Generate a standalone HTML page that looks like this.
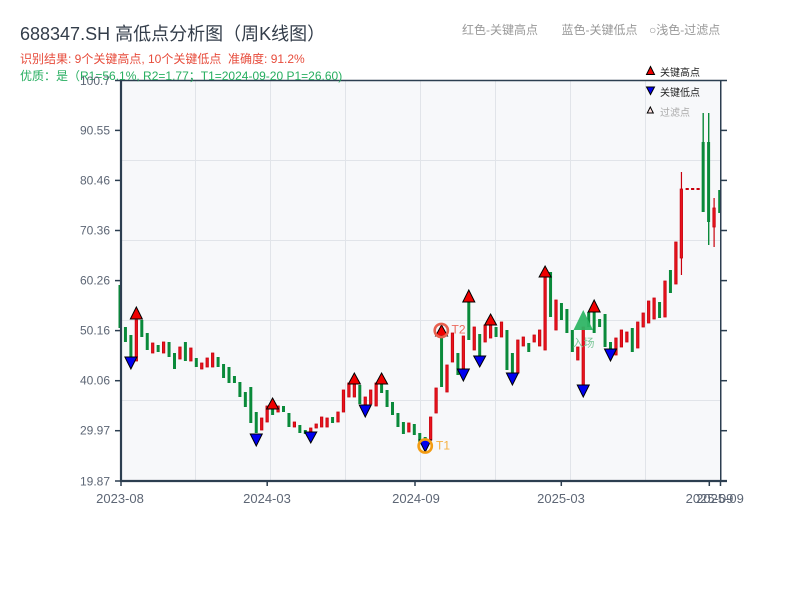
<!DOCTYPE html>
<html><head><meta charset="utf-8"><style>
html,body{margin:0;padding:0;background:#fff;}
svg{display:block;}
.r{fill:#e8141e;stroke:#c8000c;stroke-width:.8}
.g{fill:#0a8a3a}
.ax{stroke:#2c3e50;fill:none}
.yl{font-family:"Liberation Sans",sans-serif;font-size:12px;fill:#5d6675;text-anchor:end}
.xl{font-family:"Liberation Sans",sans-serif;font-size:13px;fill:#5d6675;text-anchor:middle}
.hi{fill:#f00000;stroke:#000;stroke-width:1}
.lo{fill:#0000f0;stroke:#000;stroke-width:1}
.cjk{font-family:"Liberation Sans","Noto Sans CJK SC",sans-serif}
</style></head><body>
<svg width="800" height="600" viewBox="0 0 800 600" xmlns="http://www.w3.org/2000/svg">
<rect x="0" y="0" width="800" height="600" fill="#fff"/>
<rect x="121" y="80" width="600" height="401" fill="#f7f8fa"/>
<g stroke="#e1e4e9" stroke-width="1">
<line x1="195.5" y1="80" x2="195.5" y2="481"/>
<line x1="270.5" y1="80" x2="270.5" y2="481"/>
<line x1="345.5" y1="80" x2="345.5" y2="481"/>
<line x1="420.5" y1="80" x2="420.5" y2="481"/>
<line x1="495.5" y1="80" x2="495.5" y2="481"/>
<line x1="570.5" y1="80" x2="570.5" y2="481"/>
<line x1="645.5" y1="80" x2="645.5" y2="481"/>
<line x1="121" y1="160.5" x2="721" y2="160.5"/>
<line x1="121" y1="240.5" x2="721" y2="240.5"/>
<line x1="121" y1="320.5" x2="721" y2="320.5"/>
<line x1="121" y1="400.5" x2="721" y2="400.5"/>
</g>
<g>
<rect class="g" x="118.5" y="285" width="3" height="43"/>
<rect class="g" x="123.95" y="327" width="3" height="15"/>
<rect class="g" x="129.4" y="335" width="3" height="23"/>
<rect class="r" x="135.15" y="320" width="2.4" height="41"/>
<rect class="g" x="140.3" y="320" width="3" height="17"/>
<rect class="g" x="145.75" y="333" width="3" height="17"/>
<rect class="r" x="151.5" y="343" width="2.4" height="10"/>
<rect class="g" x="156.65" y="345" width="3" height="7"/>
<rect class="r" x="162.4" y="342" width="2.4" height="11"/>
<rect class="g" x="167.55" y="342" width="3" height="15"/>
<rect class="g" x="173" y="353" width="3" height="16"/>
<rect class="r" x="178.75" y="347" width="2.4" height="12"/>
<rect class="g" x="183.9" y="342" width="3" height="19"/>
<rect class="r" x="189.65" y="348" width="2.4" height="13"/>
<rect class="g" x="194.8" y="358" width="3" height="9"/>
<rect class="r" x="200.55" y="363" width="2.4" height="6"/>
<rect class="r" x="206" y="358" width="2.4" height="9"/>
<rect class="r" x="211.45" y="353" width="2.4" height="14"/>
<rect class="g" x="216.6" y="357" width="3" height="10"/>
<rect class="g" x="222.05" y="364" width="3" height="14"/>
<rect class="g" x="227.5" y="367" width="3" height="16"/>
<rect class="g" x="232.95" y="376" width="3" height="7"/>
<rect class="g" x="238.4" y="382" width="3" height="15"/>
<rect class="g" x="243.85" y="392" width="3" height="15"/>
<rect class="g" x="249.3" y="387" width="3" height="36"/>
<rect class="g" x="254.75" y="412" width="3" height="21"/>
<rect class="r" x="260.5" y="418" width="2.4" height="12"/>
<rect class="r" x="265.95" y="406" width="2.4" height="16"/>
<rect class="g" x="271.1" y="408" width="3" height="7"/>
<rect class="r" x="276.85" y="406" width="2.4" height="6"/>
<rect class="g" x="282" y="406" width="3" height="6"/>
<rect class="g" x="287.45" y="413" width="3" height="14"/>
<rect class="r" x="293.2" y="422" width="2.4" height="5"/>
<rect class="g" x="298.35" y="425" width="3" height="8"/>
<rect class="g" x="303.8" y="430" width="3" height="4"/>
<rect class="r" x="309.55" y="428" width="2.4" height="5"/>
<rect class="r" x="315" y="424" width="2.4" height="4"/>
<rect class="r" x="320.45" y="417" width="2.4" height="10"/>
<rect class="r" x="325.9" y="418" width="2.4" height="9"/>
<rect class="g" x="331.05" y="417" width="3" height="6"/>
<rect class="r" x="336.8" y="412" width="2.4" height="10"/>
<rect class="r" x="342.25" y="390" width="2.4" height="22"/>
<rect class="r" x="347.7" y="383" width="2.4" height="14"/>
<rect class="r" x="353.15" y="384" width="2.4" height="13"/>
<rect class="g" x="358.3" y="385" width="3" height="19"/>
<rect class="r" x="364.05" y="397" width="2.4" height="8"/>
<rect class="r" x="369.5" y="390" width="2.4" height="14"/>
<rect class="r" x="374.95" y="383" width="2.4" height="23"/>
<rect class="g" x="380.1" y="384" width="3" height="9"/>
<rect class="g" x="385.55" y="390" width="3" height="17"/>
<rect class="g" x="391" y="402" width="3" height="13"/>
<rect class="g" x="396.45" y="413" width="3" height="14"/>
<rect class="g" x="401.9" y="422" width="3" height="12"/>
<rect class="r" x="407.65" y="423" width="2.4" height="9"/>
<rect class="g" x="412.8" y="424" width="3" height="11"/>
<rect class="g" x="418.25" y="433" width="3" height="9"/>
<rect class="g" x="423.7" y="437" width="3" height="6"/>
<rect class="r" x="429.45" y="417" width="2.4" height="23"/>
<rect class="r" x="434.9" y="388" width="2.4" height="25"/>
<rect class="g" x="440.05" y="338" width="3" height="49"/>
<rect class="r" x="445.8" y="365" width="2.4" height="27"/>
<rect class="r" x="451.25" y="333" width="2.4" height="29"/>
<rect class="g" x="456.4" y="353" width="3" height="22"/>
<rect class="r" x="462.15" y="336" width="2.4" height="34"/>
<rect class="g" x="467.3" y="302" width="3" height="38"/>
<rect class="r" x="473.05" y="327" width="2.4" height="23"/>
<rect class="g" x="478.2" y="334" width="3" height="22"/>
<rect class="r" x="483.95" y="325" width="2.4" height="17"/>
<rect class="r" x="489.4" y="325" width="2.4" height="13"/>
<rect class="g" x="494.55" y="327" width="3" height="10"/>
<rect class="r" x="500.3" y="322" width="2.4" height="15"/>
<rect class="g" x="505.45" y="330" width="3" height="40"/>
<rect class="g" x="510.9" y="353" width="3" height="20"/>
<rect class="r" x="516.65" y="340" width="2.4" height="33"/>
<rect class="r" x="522.1" y="337" width="2.4" height="9"/>
<rect class="g" x="527.25" y="343" width="3" height="9"/>
<rect class="r" x="533" y="335" width="2.4" height="7"/>
<rect class="r" x="538.45" y="330" width="2.4" height="16"/>
<rect class="r" x="543.9" y="277" width="2.4" height="73"/>
<rect class="g" x="549.05" y="272" width="3" height="45"/>
<rect class="r" x="554.8" y="300" width="2.4" height="30"/>
<rect class="g" x="559.95" y="303" width="3" height="17"/>
<rect class="g" x="565.4" y="309" width="3" height="24"/>
<rect class="g" x="570.85" y="330" width="3" height="22"/>
<rect class="r" x="576.6" y="347" width="2.4" height="13"/>
<rect class="r" x="582.05" y="327" width="2.4" height="58"/>
<rect class="g" x="587.2" y="312" width="3" height="15"/>
<rect class="g" x="592.65" y="312" width="3" height="21"/>
<rect class="g" x="598.1" y="319" width="3" height="8"/>
<rect class="g" x="603.55" y="314" width="3" height="33"/>
<rect class="g" x="609" y="342" width="3" height="8"/>
<rect class="r" x="614.75" y="338" width="2.4" height="17"/>
<rect class="r" x="620.2" y="330" width="2.4" height="17"/>
<rect class="r" x="625.65" y="332" width="2.4" height="10"/>
<rect class="g" x="630.8" y="328" width="3" height="24"/>
<rect class="r" x="636.55" y="322" width="2.4" height="26"/>
<rect class="r" x="642" y="313" width="2.4" height="14"/>
<rect class="r" x="647.45" y="301" width="2.4" height="22"/>
<rect class="r" x="652.9" y="298" width="2.4" height="21"/>
<rect class="g" x="658.05" y="302" width="3" height="16"/>
<rect class="r" x="663.8" y="281" width="2.4" height="36"/>
<rect class="g" x="668.95" y="270" width="3" height="23"/>
<rect class="r" x="674.7" y="242" width="2.4" height="42"/>
<rect x="680.85" y="172" width="1.2" height="103" fill="#c8000c"/>
<rect class="r" x="680.15" y="189" width="2.4" height="69"/>
<rect x="685.6" y="188" width="3.2" height="2" fill="#c8000c"/>
<rect x="691.05" y="188" width="3.2" height="2" fill="#c8000c"/>
<rect x="696.5" y="188" width="3.2" height="2" fill="#c8000c"/>
<rect x="702.5" y="113" width="1.4" height="99" fill="#0a8a3a"/>
<rect class="g" x="701.65" y="142" width="3" height="70"/>
<rect x="708" y="113" width="1.4" height="132" fill="#0a8a3a"/>
<rect class="g" x="707.1" y="142" width="3" height="80"/>
<rect x="713.5" y="198" width="1.2" height="49" fill="#c8000c"/>
<rect class="r" x="712.85" y="208" width="2.4" height="19"/>
<rect class="g" x="718.2" y="190" width="2.8" height="23"/>
</g>
<g class="hi">
<polygon points="136.35,307 130.35,319 142.35,319"/>
<polygon points="272.6,398 266.6,409 278.6,409"/>
<polygon points="354.35,373 348.35,384 360.35,384"/>
<polygon points="381.6,373 375.6,384 387.6,384"/>
<polygon points="441.55,325 435.55,336 447.55,336"/>
<polygon points="468.8,290 462.8,302 474.8,302"/>
<polygon points="490.6,314 484.6,325 496.6,325"/>
<polygon points="545.1,266 539.1,277 551.1,277"/>
<polygon points="594.15,300 588.15,312 600.15,312"/>
</g>
<g class="lo">
<polygon points="124.9,357 136.9,357 130.9,369"/>
<polygon points="250.25,434 262.25,434 256.25,446"/>
<polygon points="304.75,432 316.75,432 310.75,443"/>
<polygon points="359.25,405 371.25,405 365.25,417"/>
<polygon points="419.2,440 431.2,440 425.2,452"/>
<polygon points="457.35,369 469.35,369 463.35,381"/>
<polygon points="473.7,356 485.7,356 479.7,367"/>
<polygon points="506.4,373 518.4,373 512.4,385"/>
<polygon points="577.25,385 589.25,385 583.25,397"/>
<polygon points="604.5,349 616.5,349 610.5,361"/>
</g>
<circle cx="425.2" cy="446" r="6.6" fill="none" stroke="#f39c12" stroke-width="2.6"/>
<text x="436" y="449.5" font-family="Liberation Sans,sans-serif" font-size="12" fill="#f5b041">T1</text>
<circle cx="441.3" cy="330.5" r="6.6" fill="none" stroke="#e8604f" stroke-width="2.6"/>
<text x="451.5" y="333.5" font-family="Liberation Sans,sans-serif" font-size="12" fill="#ec6b5e">T2</text>
<polygon points="583.25,310 573.5,330 593,330" fill="#2fb565" opacity="0.95"/>
<text x="583.5" y="346.5" class="cjk" font-size="11" fill="#6fc28e" text-anchor="middle" opacity="0.9">入场</text>
<line x1="121" y1="80.5" x2="727" y2="80.5" class="ax" stroke-width="1.5"/>
<line x1="720.75" y1="80" x2="720.75" y2="482" class="ax" stroke-width="1.5"/>
<line x1="121" y1="79" x2="121" y2="482" class="ax" stroke-width="2.2"/>
<line x1="120" y1="481" x2="727" y2="481" class="ax" stroke-width="2.2"/>
<g class="ax" stroke-width="1.5">
<line x1="115" y1="80.5" x2="121" y2="80.5"/>
<line x1="115" y1="130.4" x2="121" y2="130.4"/>
<line x1="115" y1="180.4" x2="121" y2="180.4"/>
<line x1="115" y1="230.5" x2="121" y2="230.5"/>
<line x1="115" y1="280.6" x2="121" y2="280.6"/>
<line x1="115" y1="330.6" x2="121" y2="330.6"/>
<line x1="115" y1="380.7" x2="121" y2="380.7"/>
<line x1="115" y1="430.7" x2="121" y2="430.7"/>
<line x1="115" y1="481" x2="121" y2="481"/>
<line x1="721" y1="130.4" x2="727" y2="130.4"/>
<line x1="721" y1="180.4" x2="727" y2="180.4"/>
<line x1="721" y1="230.5" x2="727" y2="230.5"/>
<line x1="721" y1="280.6" x2="727" y2="280.6"/>
<line x1="721" y1="330.6" x2="727" y2="330.6"/>
<line x1="721" y1="380.7" x2="727" y2="380.7"/>
<line x1="721" y1="430.7" x2="727" y2="430.7"/>
<line x1="121" y1="481" x2="121" y2="486"/>
<line x1="267.2" y1="481" x2="267.2" y2="486"/>
<line x1="415" y1="481" x2="415" y2="486"/>
<line x1="561.3" y1="481" x2="561.3" y2="486"/>
<line x1="709.3" y1="481" x2="709.3" y2="486"/>
<line x1="720.5" y1="481" x2="720.5" y2="486"/>
</g>
<text x="20" y="40" class="cjk" font-size="18" fill="#333d4a">688347.SH 高低点分析图（周K线图）</text>
<text x="20" y="63" class="cjk" font-size="12" fill="#e74c3c" xml:space="preserve">识别结果: 9个关键高点, 10个关键低点  准确度: 91.2%</text>
<text x="20" y="80" class="cjk" font-size="12" fill="#27ae60">优质：是（R1=56.1%, R2=1.77；T1=2024-09-20 P1=26.60)</text>
<g class="yl">
<text x="110" y="85">100.7</text>
<text x="110" y="134.5">90.55</text>
<text x="110" y="184.5">80.46</text>
<text x="110" y="234.5">70.36</text>
<text x="110" y="284.5">60.26</text>
<text x="110" y="334.5">50.16</text>
<text x="110" y="384.5">40.06</text>
<text x="110" y="434.5">29.97</text>
<text x="110" y="485.5">19.87</text>
</g>
<g class="xl">
<text x="120" y="503">2023-08</text>
<text x="267" y="503">2024-03</text>
<text x="416" y="503">2024-09</text>
<text x="561" y="503">2025-03</text>
<text x="709.5" y="503">2025-09</text>
<text x="720" y="503">2025-09</text>
</g>
<g class="cjk" font-size="12" fill="#999">
<text x="462" y="34">红色-关键高点</text>
<text x="561.5" y="34">蓝色-关键低点</text>
<text x="649" y="34">○浅色-过滤点</text>
</g>
<polygon points="650.5,66.5 646.5,74.5 654.5,74.5" fill="#f00000" stroke="#000" stroke-width="1"/>
<text x="660" y="76" class="cjk" font-size="10" fill="#222">关键高点</text>
<polygon points="646.5,87 654.5,87 650.5,94.5" fill="#0000f0" stroke="#000" stroke-width="1"/>
<text x="660" y="96" class="cjk" font-size="10" fill="#222">关键低点</text>
<polygon points="650.3,107 647.3,113 653.3,113" fill="#ffe4e4" stroke="#000" stroke-width="1"/>
<text x="660" y="116" class="cjk" font-size="10" fill="#aaa">过滤点</text>
</svg>
</body></html>
